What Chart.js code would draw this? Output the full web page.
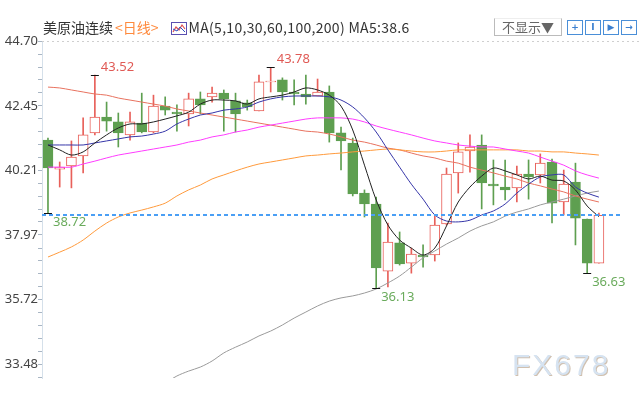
<!DOCTYPE html>
<html>
<head>
<meta charset="utf-8">
<script src="https://cdn.jsdelivr.net/npm/chart.js@4.4.0/dist/chart.umd.min.js"></script>
<style>
    body { margin: 0; background: #fff; }
    #wrap { position: relative; width: 640px; height: 400px; font-family: 'Noto Sans CJK SC', 'Noto Sans', sans-serif; }
    #kline { position: absolute; left: 0; top: 0; }
    .hd { position: absolute; left: 43px; top: 17px; font-size: 14px; color: #333; white-space: nowrap; line-height: 20px; }
    .hd .cyc { color: #ff8a3d; margin-left: 2px; }
    .hd .ma { letter-spacing: 0.3px; }
    .hd svg { vertical-align: -2px; margin: 0 2px 0 12px; }
    .btn { position: absolute; left: 494px; top: 18px; width: 66px; height: 16px; border: 1px solid #bbb; border-top-color: #eee;
           font-size: 13px; line-height: 16px; color: #666; text-align: center; }
    .tools { position: absolute; left: 567px; top: 20px; }
    .tools span { display: inline-block; width: 14px; height: 13px; border: 1px solid #4a8fd8; margin-right: 2px;
                  font: bold 9px 'DejaVu Sans', sans-serif; color: #3a7fd0; text-align: center; line-height: 13px; vertical-align: top; }
    .wm { position: absolute; left: 512px; top: 348px; font: 30px 'Liberation Sans', Arial, sans-serif; letter-spacing: 2px;
          color: #d6e3f1; text-shadow: 1px 1px 0 rgba(170,140,110,0.55); }
</style>
</head>
<body>
<div id="wrap">
    <canvas id="kline" width="640" height="400"></canvas>
    <div class="hd">美原油连续<span class="cyc">&lt;日线&gt;</span><svg width="16" height="13" viewBox="0 0 16 13"><rect x="0.5" y="0.5" width="15" height="12" fill="#fff" stroke="#5a4fb0"/><polyline points="2,10 5,5 8,8 11,3 14,7" fill="none" stroke="#e05050" stroke-width="1.2"/><polyline points="2,7 6,9 9,5 14,10" fill="none" stroke="#3050c0" stroke-width="1"/></svg><span class="ma">MA(5,10,30,60,100,200) MA5:38.6</span></div>
    <div class="btn">不显示▼</div>
    <div class="tools"><span>+</span><span>I</span><span>▶</span><span>→</span></div>
    <div class="wm">FX678</div>
</div>
<script>
    // daily candles, oldest first
    var opens  = [41.26, 40.25, 40.36, 40.71, 41.51, 42.06, 41.89, 41.44, 41.85, 41.54, 42.44, 42.23, 42.17, 42.69, 42.76, 42.89, 42.62, 42.55, 42.27, 43.28, 43.35, 42.93, 42.86, 42.79, 42.93, 41.51, 41.16, 39.42, 39.04, 36.71, 37.69, 36.99, 37.27, 37.27, 38.35, 40.12, 40.88, 41.09, 39.73, 39.63, 39.60, 40.08, 40.05, 40.50, 39.11, 39.80, 38.52, 36.99];
    var highs  = [41.33, 40.50, 41.23, 42.03, 43.52, 42.58, 42.20, 42.23, 42.89, 42.82, 42.76, 42.48, 42.89, 42.93, 43.10, 43.00, 42.89, 42.65, 43.52, 43.78, 43.42, 43.35, 43.52, 43.38, 43.14, 41.71, 41.33, 39.53, 39.28, 38.38, 38.07, 37.51, 37.62, 38.62, 40.29, 41.16, 41.44, 41.44, 40.57, 40.57, 40.36, 40.57, 40.78, 40.60, 40.22, 40.46, 38.52, 38.73];
    var lows   = [38.72, 39.63, 39.60, 40.12, 41.44, 41.57, 41.02, 41.26, 41.51, 41.51, 42.13, 41.57, 41.75, 42.17, 42.58, 41.57, 41.54, 42.30, 42.27, 42.93, 42.65, 42.48, 42.51, 42.79, 41.19, 40.22, 39.32, 38.59, 36.13, 36.16, 36.92, 36.64, 36.85, 37.06, 38.31, 39.42, 40.15, 38.87, 39.01, 39.18, 39.11, 39.21, 39.77, 38.38, 38.66, 37.62, 36.63, 36.99];
    var closes = [40.29, 40.32, 40.67, 41.44, 42.06, 41.92, 41.51, 41.89, 41.54, 42.44, 42.30, 42.17, 42.69, 42.48, 42.89, 42.69, 42.17, 42.41, 43.28, 43.31, 42.93, 42.86, 42.76, 42.93, 41.51, 41.23, 39.39, 39.04, 36.82, 37.72, 36.96, 37.30, 37.20, 38.31, 40.08, 40.85, 41.02, 39.77, 39.67, 39.53, 40.08, 39.98, 40.46, 39.07, 39.73, 38.55, 36.99, 38.65];

    var ma5   = [41.09, 40.92, 40.74, 40.85, 41.16, 41.44, 41.68, 41.82, 41.82, 41.89, 41.99, 42.10, 42.23, 42.51, 42.65, 42.65, 42.62, 42.51, 42.69, 42.76, 42.82, 42.93, 43.07, 43.00, 42.82, 42.44, 41.61, 40.39, 39.18, 38.31, 37.79, 37.51, 37.27, 37.51, 38.28, 39.11, 39.63, 40.01, 40.29, 40.19, 40.05, 39.91, 40.01, 39.87, 39.84, 39.53, 38.97, 38.60];
    var ma10  = [41.09, 41.09, 41.09, 41.09, 41.16, 41.23, 41.30, 41.37, 41.40, 41.47, 41.57, 41.82, 41.99, 42.13, 42.20, 42.30, 42.34, 42.41, 42.58, 42.69, 42.76, 42.79, 42.79, 42.79, 42.76, 42.65, 42.41, 42.03, 41.54, 40.92, 40.32, 39.73, 39.21, 38.66, 38.45, 38.42, 38.48, 38.66, 38.80, 39.04, 39.42, 39.73, 39.98, 40.05, 40.05, 39.63, 39.42, 39.28];
    var ma30  = [40.32, 40.32, 40.32, 40.43, 40.53, 40.64, 40.74, 40.81, 40.88, 40.95, 41.02, 41.09, 41.19, 41.26, 41.37, 41.44, 41.54, 41.61, 41.71, 41.78, 41.85, 41.92, 41.99, 42.03, 42.03, 42.03, 41.99, 41.89, 41.75, 41.64, 41.54, 41.44, 41.33, 41.23, 41.16, 41.09, 41.05, 41.02, 41.02, 40.95, 40.88, 40.81, 40.67, 40.53, 40.39, 40.19, 40.05, 39.94];
    var ma60  = [37.20, 37.37, 37.55, 37.79, 38.10, 38.38, 38.59, 38.73, 38.83, 38.94, 39.07, 39.32, 39.53, 39.70, 39.91, 40.05, 40.19, 40.32, 40.43, 40.50, 40.57, 40.64, 40.71, 40.74, 40.78, 40.81, 40.85, 40.88, 40.92, 40.95, 40.92, 40.88, 40.85, 40.85, 40.88, 40.92, 40.92, 40.92, 40.92, 40.92, 40.92, 40.88, 40.88, 40.85, 40.85, 40.81, 40.78, 40.74];
    var ma100 = [43.10, 43.07, 43.00, 42.93, 42.86, 42.82, 42.72, 42.65, 42.58, 42.51, 42.44, 42.34, 42.27, 42.20, 42.13, 42.06, 41.99, 41.92, 41.85, 41.78, 41.71, 41.64, 41.57, 41.54, 41.47, 41.37, 41.26, 41.19, 41.09, 40.98, 40.92, 40.81, 40.71, 40.64, 40.53, 40.46, 40.32, 40.22, 40.12, 40.01, 39.91, 39.77, 39.67, 39.56, 39.46, 39.32, 39.21, 39.11];
    var ma200 = [null, null, null, null, null, null, null, null, null, null, 32.82, 33.07, 33.24, 33.38, 33.59, 33.87, 34.07, 34.25, 34.46, 34.63, 34.84, 35.08, 35.29, 35.50, 35.67, 35.78, 35.85, 35.95, 36.09, 36.30, 36.54, 36.85, 37.17, 37.41, 37.65, 37.86, 38.10, 38.28, 38.42, 38.62, 38.76, 38.87, 39.01, 39.11, 39.21, 39.32, 39.42, 39.49];

    var yTicks = [33.48, 35.72, 37.97, 40.21, 42.45, 44.70];
    var highMarks = [4, 19];
    var lowMarks = [0, 28, 46];

    var UP = '#e8605a', DOWN = '#5e9f50';

    function isUp(i) { return closes[i] >= opens[i]; }
    function pts(arr) { return arr.map(function(v, i) { return { x: i, y: v }; }); }

    function maLine(label, arr, color) {
        return {
            type: 'line', label: label, data: pts(arr), order: 0,
            borderColor: color, borderWidth: 1, pointRadius: 0, tension: 0.3, spanGaps: false
        };
    }

    // every tick gets a mark, only majors get a label
    function buildTicks(scale) {
        var t = [];
        var step = (yTicks[1] - yTicks[0]) / 5;
        for (var k = 0; k < yTicks.length; k++) {
            t.push({ value: yTicks[k], major: true });
            if (k < yTicks.length - 1) {
                for (var m = 1; m < 5; m++) t.push({ value: yTicks[k] + step * m });
            }
        }
        t.push({ value: yTicks[0] - step });
        scale.ticks = t;
    }

    var overlay = {
        id: 'overlay',
        beforeDatasetsDraw: function(chart) {
            var c = chart.ctx, a = chart.chartArea;
            c.save();
            c.strokeStyle = '#cfcfcf';
            c.setLineDash([2, 3]);
            c.beginPath();
            c.moveTo(a.left, a.top + 0.5);
            c.lineTo(640, a.top + 0.5);
            c.stroke();
            c.restore();
        },
        afterDatasetsDraw: function(chart) {
            var c = chart.ctx, a = chart.chartArea, xs = chart.scales.x, ys = chart.scales.y;
            c.save();
            // last price line
            var py = Math.round(ys.getPixelForValue(closes[closes.length - 1]));
            c.strokeStyle = '#4a9ff5';
            c.lineWidth = 2;
            c.setLineDash([4, 3]);
            c.beginPath();
            c.moveTo(a.left, py);
            c.lineTo(a.right, py);
            c.stroke();
            c.setLineDash([]);
            c.lineWidth = 1;

            c.font = '13px "Noto Sans", sans-serif';
            c.textBaseline = 'middle';
            c.textAlign = 'left';
            c.strokeStyle = '#111';
            highMarks.forEach(function(i) {
                var x = xs.getPixelForValue(i), yy = Math.round(ys.getPixelForValue(highs[i])) + 0.5;
                c.beginPath(); c.moveTo(x - 4, yy); c.lineTo(x + 4, yy); c.stroke();
                c.fillStyle = '#e05a55';
                c.fillText(highs[i].toFixed(2), x + 6, yy - 8);
            });
            lowMarks.forEach(function(i) {
                var x = xs.getPixelForValue(i), yy = Math.round(ys.getPixelForValue(lows[i])) + 0.5;
                c.beginPath(); c.moveTo(x - 4, yy); c.lineTo(x + 4, yy); c.stroke();
                c.fillStyle = '#6aab5c';
                c.fillText(lows[i].toFixed(2), x + 5, yy + 9);
            });
            c.restore();
        }
    };

    new Chart(document.getElementById('kline'), {
        type: 'bar',
        data: {
            datasets: [
                maLine('MA5', ma5, '#222222'),
                maLine('MA10', ma10, '#3535a8'),
                maLine('MA30', ma30, '#ff3cff'),
                maLine('MA60', ma60, '#ff9a3c'),
                maLine('MA100', ma100, '#e8725f'),
                maLine('MA200', ma200, '#9a9a9a'),
                {
                    label: 'body', order: 1, grouped: false,
                    data: opens.map(function(o, i) { return { x: i, y: [o, closes[i]] }; }),
                    backgroundColor: function(ctx) { return isUp(ctx.dataIndex) ? '#ffffff' : DOWN; },
                    borderColor: function(ctx) { return isUp(ctx.dataIndex) ? UP : DOWN; },
                    borderWidth: 1, borderSkipped: false, barThickness: 10
                },
                {
                    label: 'wick', order: 2, grouped: false,
                    data: lows.map(function(l, i) { return { x: i, y: [l, highs[i]] }; }),
                    backgroundColor: function(ctx) { return isUp(ctx.dataIndex) ? UP : DOWN; },
                    borderWidth: 0, barThickness: 1
                }
            ]
        },
        options: {
            responsive: false,
            animation: false,
            devicePixelRatio: 1,
            layout: { padding: { top: 41, right: 20, bottom: 22, left: 0 } },
            plugins: { legend: { display: false }, tooltip: { enabled: false } },
            scales: {
                x: { type: 'linear', offset: false, min: -0.51, max: 48.8, display: false, grid: { offset: false } },
                y: {
                    min: 33.0, max: 44.70,
                    afterBuildTicks: buildTicks,
                    afterFit: function(scale) { scale.width = 42; },
                    border: { display: true, color: '#d5e0ea' },
                    grid: { drawOnChartArea: false, drawTicks: true, tickLength: 4, tickColor: '#a9b6c4' },
                    ticks: {
                        autoSkip: false, padding: 0, color: '#444',
                        font: { size: 13, family: "'Noto Sans', sans-serif" },
                        callback: function(v, idx, ticks) { return ticks[idx].major ? v.toFixed(2) : ''; }
                    }
                }
            }
        },
        plugins: [overlay]
    });
</script>
</body>
</html>
